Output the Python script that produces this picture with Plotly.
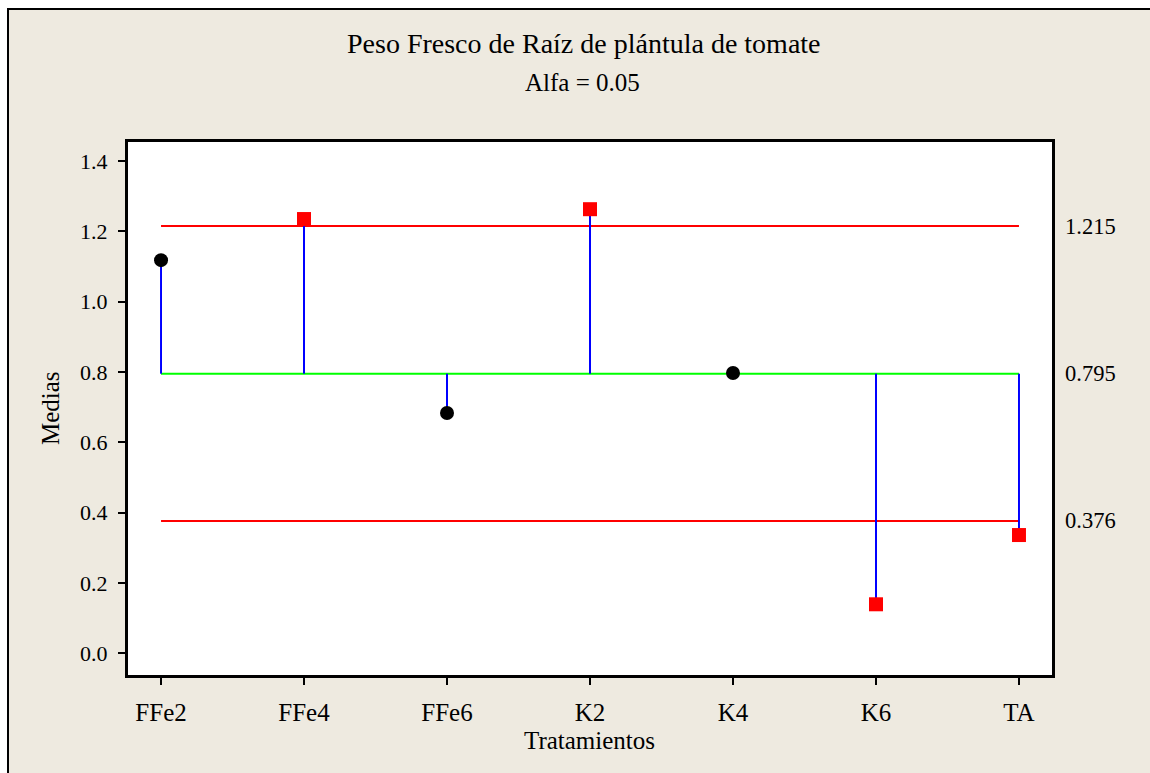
import plotly.graph_objects as go

# ---- data ----
categories = ["FFe2", "FFe4", "FFe6", "K2", "K4", "K6", "TA"]
means = [1.118, 1.235, 0.683, 1.263, 0.797, 0.139, 0.336]
center = 0.795
udl = 1.215
ldl = 0.376
limit_labels = ["1.215", "0.795", "0.376"]
y_ticks = [0.0, 0.2, 0.4, 0.6, 0.8, 1.0, 1.2, 1.4]

# page pixel layout (body margin removed via post_script)
W, H = 1150, 773
L, R, T, B = 127, 1053, 141, 676
pw, ph = R - L, B - T

def px_x(x):  # page pixel -> paper
    return (x - L) / pw

def px_y(y):
    return (B - y) / ph

FONT = "Liberation Serif, Times New Roman, serif"
BG = "#EEEAE0"

fig = go.Figure()

# limit lines
for val, col in [(udl, "#FF0000"), (ldl, "#FF0000"), (center, "#00FF00")]:
    fig.add_trace(go.Scatter(x=[categories[0], categories[-1]], y=[val, val],
                             mode="lines", line=dict(color=col, width=2),
                             hoverinfo="skip", showlegend=False))

# vertical blue lines from center to each mean
vx, vy = [], []
for c, m in zip(categories, means):
    vx += [c, c, None]
    vy += [center, m, None]
fig.add_trace(go.Scatter(x=vx, y=vy, mode="lines",
                         line=dict(color="#0000FF", width=2),
                         hoverinfo="skip", showlegend=False))

# points
inside_x = [c for c, m in zip(categories, means) if ldl <= m <= udl]
inside_y = [m for m in means if ldl <= m <= udl]
out_x = [c for c, m in zip(categories, means) if not (ldl <= m <= udl)]
out_y = [m for m in means if not (ldl <= m <= udl)]
fig.add_trace(go.Scatter(x=inside_x, y=inside_y, mode="markers",
                         marker=dict(symbol="circle", size=14, color="black"),
                         showlegend=False))
fig.add_trace(go.Scatter(x=out_x, y=out_y, mode="markers",
                         marker=dict(symbol="square", size=14, color="#FF0000"),
                         showlegend=False))

shapes = [
    dict(type="rect", xref="paper", yref="paper",
         x0=px_x(8), x1=px_x(1300), y0=px_y(9), y1=px_y(950),
         fillcolor=BG, line=dict(color="black", width=2), layer="below"),
    dict(type="rect", xref="paper", yref="paper",
         x0=0, x1=1, y0=0, y1=1,
         fillcolor="white", line=dict(color="black", width=2), layer="below"),
]

annotations = [
    dict(text="Peso Fresco de Raíz de plántula de tomate", xref="paper", yref="paper",
         x=px_x(584), y=px_y(43), xanchor="center", yanchor="middle",
         showarrow=False, font=dict(family=FONT, size=28, color="black")),
    dict(text="Alfa = 0.05", xref="paper", yref="paper",
         x=px_x(582), y=px_y(82), xanchor="center", yanchor="middle",
         showarrow=False, font=dict(family=FONT, size=25, color="black")),
    dict(text="Tratamientos", xref="paper", yref="paper",
         x=px_x(589), y=px_y(740), xanchor="center", yanchor="middle",
         showarrow=False, font=dict(family=FONT, size=25, color="black")),
    dict(text="Medias", xref="paper", yref="paper", textangle=-90,
         x=px_x(50), y=px_y(408), xanchor="center", yanchor="middle",
         showarrow=False, font=dict(family=FONT, size=25, color="black")),
]
for val, lab in zip([udl, center, ldl], limit_labels):
    annotations.append(dict(text=lab, xref="paper", yref="y", x=px_x(1063), y=val,
                            xanchor="left", yanchor="middle", showarrow=False,
                            font=dict(family=FONT, size=22.5, color="black")))

fig.update_layout(
    width=W, height=H,
    margin=dict(l=L, r=W - R, t=T, b=H - B, pad=0),
    paper_bgcolor="white", plot_bgcolor="white",
    shapes=shapes, annotations=annotations,
    font=dict(family=FONT, size=23, color="black"),
    showlegend=False,
)
fig.update_xaxes(type="category", categoryorder="array", categoryarray=categories,
                 range=[-0.238, 6.238], showgrid=False, zeroline=False,
                 showline=True, linecolor="black", linewidth=2, mirror=True,
                 ticks="outside", ticklen=7, tickwidth=2, tickcolor="black",
                 ticklabelstandoff=6,
                 tickfont=dict(family=FONT, size=25, color="black"))
fig.update_yaxes(range=[-0.065, 1.457], tickvals=y_ticks,
                 ticktext=[f"{v:.1f}" for v in y_ticks],
                 showgrid=False, zeroline=False,
                 showline=True, linecolor="black", linewidth=2, mirror=True,
                 ticks="outside", ticklen=7, tickwidth=2, tickcolor="black",
                 ticklabelstandoff=6,
                 tickfont=dict(family=FONT, size=22, color="black"))

fig.write_html("out.html",
               config={"displayModeBar": False},
               post_script="document.body.style.margin='0px';"
                           "document.body.style.overflow='hidden';")
